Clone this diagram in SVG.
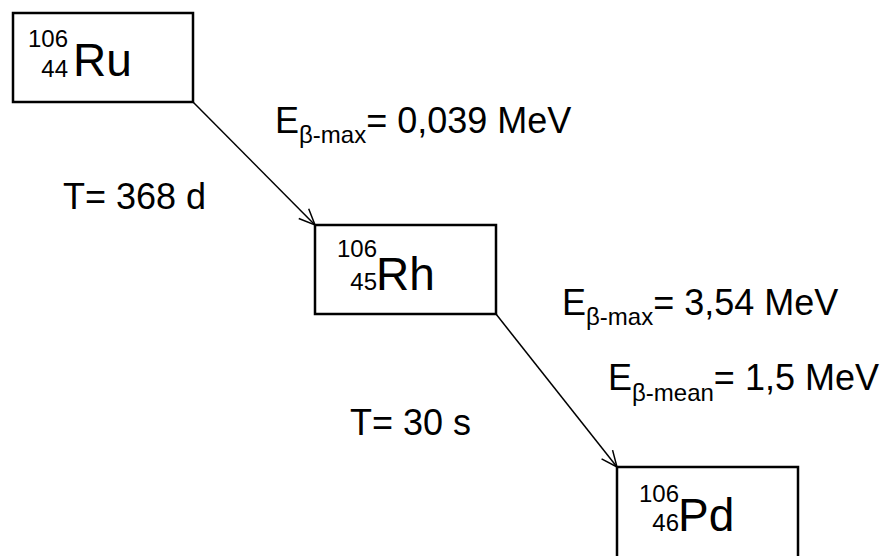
<svg xmlns="http://www.w3.org/2000/svg" width="886" height="556" viewBox="0 0 886 556">
<style>
text{font-family:"Liberation Sans",Arial,sans-serif;fill:#000}
.box{fill:#fff;stroke:#000;stroke-width:2.5}
.big{font-size:46px}
.iso{font-size:24px}
.lbl{font-size:36px}
.sub{font-size:24px}
.conn{stroke:#000;stroke-width:1.5;fill:none}
</style>
<defs>
<marker id="ah" markerUnits="userSpaceOnUse" markerWidth="20" markerHeight="20" viewBox="-18 -9 20 18" refX="0" refY="0" orient="auto">
<path d="M-16,-7 L0,0 L-16,7" fill="none" stroke="#000" stroke-width="1.5"/>
</marker>
</defs>
<rect width="886" height="556" fill="#fff"/>
<g id="connectors">
<line class="conn" x1="193" y1="102" x2="315" y2="225" marker-end="url(#ah)"/>
<line class="conn" x1="496" y1="314" x2="617" y2="467" marker-end="url(#ah)"/>
</g>
<g id="ru">
<rect class="box" x="13" y="13" width="180" height="89"/>
<text class="iso" x="68" y="47" text-anchor="end">106</text>
<text class="iso" x="68" y="77" text-anchor="end">44</text>
<text class="big" x="73" y="76">Ru</text>
</g>
<g id="rh">
<rect class="box" x="315" y="225" width="181" height="89"/>
<text class="iso" x="377" y="257" text-anchor="end">106</text>
<text class="iso" x="377" y="290" text-anchor="end">45</text>
<text class="big" x="376" y="290">Rh</text>
</g>
<g id="pd">
<rect class="box" x="617" y="467" width="181" height="110"/>
<text class="iso" x="679" y="502" text-anchor="end">106</text>
<text class="iso" x="679" y="531" text-anchor="end">46</text>
<text class="big" x="678" y="531">Pd</text>
</g>
<g id="labels">
<text class="lbl" x="275" y="133">E<tspan class="sub" dy="10">β-max</tspan><tspan dy="-10">= 0,039 MeV</tspan></text>
<text class="lbl" x="63" y="209">T= 368 d</text>
<text class="lbl" x="562" y="315">E<tspan class="sub" dy="10">β-max</tspan><tspan dy="-10">= 3,54 MeV</tspan></text>
<text class="lbl" x="608" y="390">E<tspan class="sub" dy="11">β-mean</tspan><tspan dy="-11">= 1,5 MeV</tspan></text>
<text class="lbl" x="350" y="435">T= 30 s</text>
</g>
</svg>
